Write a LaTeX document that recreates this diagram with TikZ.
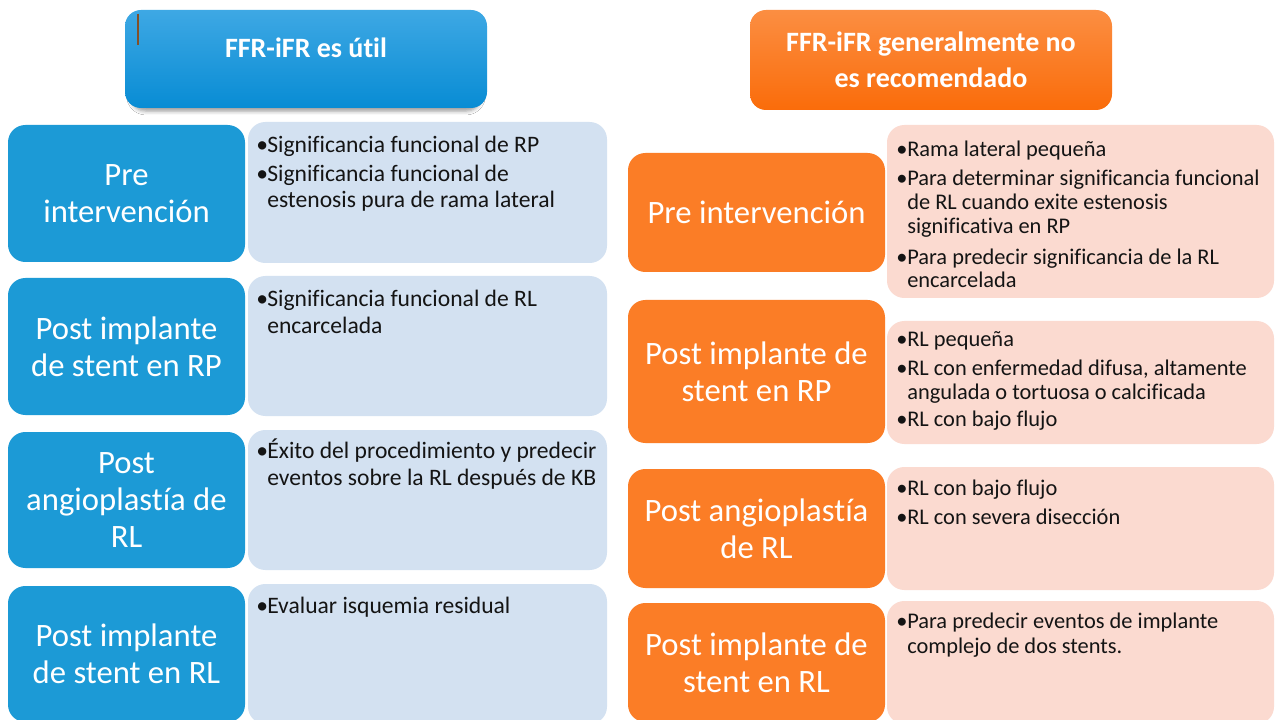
\documentclass[tikz,border=0pt]{standalone}
\usepackage{fontspec}
\setmainfont{Carlito}[Ligatures={NoCommon,NoContextual}]
\usetikzlibrary{shadows.blur}
\definecolor{blueBox}{RGB}{28,154,214}
\definecolor{lightBlue}{RGB}{211,225,241}
\definecolor{orangeBox}{RGB}{251,125,38}
\definecolor{pinkBox}{RGB}{251,218,208}
\definecolor{hBlueTop}{RGB}{62,168,228}
\definecolor{hBlueBot}{RGB}{8,140,212}
\definecolor{hOrTop}{RGB}{251,142,66}
\definecolor{hOrBot}{RGB}{250,108,10}
\definecolor{txt}{RGB}{20,20,20}
\definecolor{cursor}{RGB}{130,80,40}
\newcommand\bul{\makebox[8.25pt][l]{•}}
\newcommand\ind{\hspace*{8.25pt}}
\tikzset{
  hdr/.style={rounded corners=12pt, minimum width=271.5pt, minimum height=73.5pt, inner sep=0pt},
  hdrtext/.style={text=white, font=\fontsize{21}{27}\selectfont\bfseries, align=center, inner sep=0pt},
  cat/.style={rounded corners=13pt, inner sep=0pt, text=white, align=center,
    font=\fontsize{24.5}{27.5}\selectfont},
  catL/.style={cat, fill=blueBox, minimum width=177.75pt},
  catR/.style={cat, fill=orangeBox, minimum width=192.75pt},
  descL/.style={rounded corners=13pt, inner sep=0pt, fill=lightBlue, minimum width=269.25pt},
  descR/.style={rounded corners=13pt, inner sep=0pt, fill=pinkBox, minimum width=290.25pt},
  bodyL/.style={anchor=north west, inner sep=0pt, align=left, text=txt,
    font=\fontsize{17.7}{20}\selectfont},
  bodyR/.style={anchor=north west, inner sep=0pt, align=left, text=txt,
    font=\fontsize{16.8}{17.7}\selectfont},
}
\begin{document}
\begin{tikzpicture}[x=0.75pt,y=-0.75pt]
\useasboundingbox[fill=white] (0,0) rectangle (1275,720);

% headers
\node[hdr, top color=hBlueTop, bottom color=hBlueBot,
  blur shadow={shadow xshift=0pt, shadow yshift=-3.5pt, shadow scale=0.97,
    shadow blur radius=3pt, shadow opacity=40}]
  (hL) at (306,59) {};
\node[hdrtext] (hLt) at (306,48) {FFR-iFR es útil};
\draw[cursor, line width=0.8pt] (138,14) -- (138,45);
\node[hdr, minimum height=75pt, top color=hOrTop, bottom color=hOrBot] (hR) at (931,60) {};
\node[hdrtext] (hRt) at (931,60) {FFR-iFR generalmente no\\es recomendado};

% left column
\node[catL, minimum height=102.75pt] (cL1) at (126.5,193.5) {Pre\\intervención};
\node[catL, minimum height=102.75pt] (cL2) at (126.5,346.5) {Post implante\\de stent en RP};
\node[catL, minimum height=102pt] (cL3) at (126.5,500) {Post\\angioplastía de\\RL};
\node[catL, minimum height=102pt] (cL4) at (126.5,654) {Post implante\\de stent en RL};

\node[descL, minimum height=105.75pt] (dL1) at (427.5,192.5) {};
\node[descL, minimum height=105pt] (dL2) at (427.5,346) {};
\node[descL, minimum height=105pt] (dL3) at (427.5,500) {};
\node[descL, minimum height=105pt] (dL4) at (427.5,654) {};

\node[bodyL] (tL1) at (256,136) {\bul Significancia funcional de RP\\[1.5pt]
  \bul Significancia funcional de\\ \ind estenosis pura de rama lateral};
\node[bodyL] (tL2) at (256,290) {\bul Significancia funcional de RL\\ \ind encarcelada};
\node[bodyL] (tL3) at (256,439) {\bul Éxito del procedimiento y predecir\\ \ind eventos sobre la RL después de KB};
\node[bodyL] (tL4) at (256,597) {\bul Evaluar isquemia residual};

% right column
\node[catR, minimum height=89.25pt] (cR1) at (756.5,212.5) {Pre intervención};
\node[catR, minimum height=107.25pt] (cR2) at (756.5,371.5) {Post implante de\\stent en RP};
\node[catR, minimum height=89.25pt] (cR3) at (756.5,528.5) {Post angioplastía\\de RL};
\node[catR, minimum height=89.25pt] (cR4) at (756.5,662.5) {Post implante de\\stent en RL};

\node[descR, minimum height=129.75pt] (dR1) at (1080.5,211.5) {};
\node[descR, minimum height=92.25pt] (dR2) at (1080.5,382.5) {};
\node[descR, minimum height=92.25pt] (dR3) at (1080.5,528.5) {};
\node[descR, minimum height=92.25pt] (dR4) at (1080.5,662.5) {};

\node[bodyR] (tR1) at (896,140.5) {\bul Rama lateral pequeña\\[4.5pt]
  \bul Para determinar significancia funcional\\ \ind de RL cuando exite estenosis\\ \ind significativa en RP\\[5.5pt]
  \bul Para predecir significancia de la RL\\ \ind encarcelada};
\node[bodyR] (tR2) at (896,331.5) {\bul RL pequeña\\[4pt]
  \bul RL con enfermedad difusa, altamente\\ \ind angulada o tortuosa o calcificada\\[3pt]
  \bul RL con bajo flujo};
\node[bodyR] (tR3) at (896,479.5) {\bul RL con bajo flujo\\[4.5pt] \bul RL con severa disección};
\node[bodyR] (tR4) at (896,612.5) {\bul Para predecir eventos de implante\\[1pt] \ind complejo de dos stents.};
\end{tikzpicture}
\end{document}
